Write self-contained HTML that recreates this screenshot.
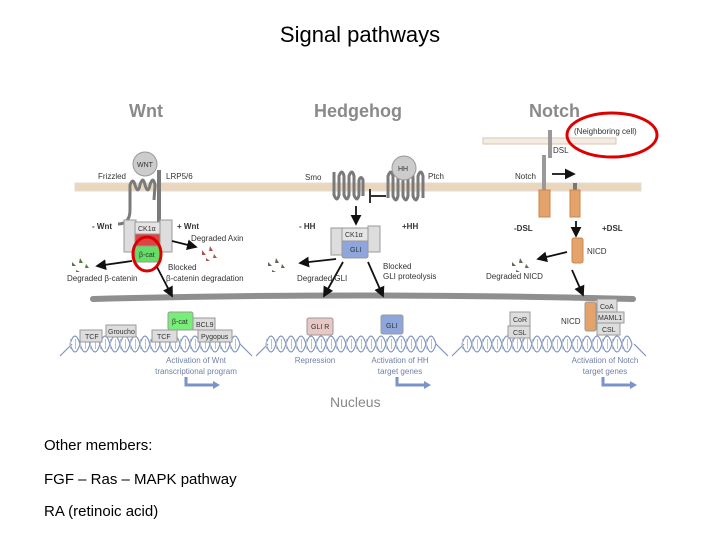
<!DOCTYPE html>
<html><head><meta charset="utf-8"><style>
html,body{margin:0;padding:0;background:#fff}
body{width:720px;height:540px;overflow:hidden;position:relative;font-family:"Liberation Sans",sans-serif}
.t{position:absolute;left:0;width:720px;top:22px;text-align:center;font-size:22px;color:#000}
.b{position:absolute;left:44px;font-size:15px;color:#000}
svg{position:absolute;left:0;top:0}
svg text{font-family:"Liberation Sans",sans-serif}
</style></head><body>
<div class="t">Signal pathways</div>
<div class="b" style="top:437px">Other members:</div>
<div class="b" style="top:471px">FGF – Ras – MAPK pathway</div>
<div class="b" style="top:503px">RA (retinoic acid)</div>
<svg width="720" height="540" viewBox="0 0 720 540">
<defs><marker id="a" markerWidth="6" markerHeight="6" refX="5" refY="3" orient="auto"><path d="M0,0L6,3L0,6z" fill="#111"/></marker></defs>
<g font-weight="bold" fill="#8a8a8a" font-size="18">
<text x="129" y="117">Wnt</text><text x="314" y="117">Hedgehog</text><text x="529" y="117">Notch</text></g>
<rect x="483" y="138" width="133" height="6" fill="#f4ece2" stroke="#d8c7b0"/>
<rect x="75" y="183" width="566" height="8" fill="#ebd6bc" stroke="#ddd"/>
<path d="M93,299 Q360,292 633,299" stroke="#8f8f8f" stroke-width="6" fill="none" stroke-linecap="round"/>
<!-- DNA -->
<g fill="none" stroke="#7f94bd" stroke-width="1.2">
<path d="M60,356 L72,344 M252,356 L240,344 M256,356 L268,344 M448,356 L436,344 M452,356 L464,344 M646,356 L634,344"/>
<path id="s1" d="M70,344 c3.3,-10.6 6.7,-10.6 10,0 s6.7,10.6 10,0 s6.7,-10.6 10,0 s6.7,10.6 10,0 s6.7,-10.6 10,0 s6.7,10.6 10,0 s6.7,-10.6 10,0 s6.7,10.6 10,0 s6.7,-10.6 10,0 s6.7,10.6 10,0 s6.7,-10.6 10,0 s6.7,10.6 10,0 s6.7,-10.6 10,0 s6.7,10.6 10,0 s6.7,-10.6 10,0 s6.7,10.6 10,0 s6.7,-10.6 10,0"/>
<path id="s2" d="M70,344 c3.3,10.6 6.7,10.6 10,0 s6.7,-10.6 10,0 s6.7,10.6 10,0 s6.7,-10.6 10,0 s6.7,10.6 10,0 s6.7,-10.6 10,0 s6.7,10.6 10,0 s6.7,-10.6 10,0 s6.7,10.6 10,0 s6.7,-10.6 10,0 s6.7,10.6 10,0 s6.7,-10.6 10,0 s6.7,10.6 10,0 s6.7,-10.6 10,0 s6.7,10.6 10,0 s6.7,-10.6 10,0 s6.7,10.6 10,0"/>
<line x1="70" y1="344" x2="240" y2="344" stroke-width="10" stroke-dasharray="1 4" stroke="#b3c0da"/>
<use href="#s1" x="196"/><use href="#s2" x="196"/>
<line x1="266" y1="344" x2="436" y2="344" stroke-width="10" stroke-dasharray="1 4" stroke="#b3c0da"/>
<use href="#s1" x="392"/><use href="#s2" x="392"/>
<line x1="462" y1="344" x2="632" y2="344" stroke-width="10" stroke-dasharray="1 4" stroke="#b3c0da"/>
</g>
<path d="M118,224 Q130,224 130,210 L130,185 q3,-8 5,0 q3,10 5,0 q3,-10 5,0 q3,10 5,0 q3,-10 5,0 L154,200" fill="none" stroke="#7a7a7a" stroke-width="3"/>
<rect x="157" y="170" width="4" height="62" fill="#7a7a7a"/>
<circle cx="145" cy="164" r="12" fill="#ccc" stroke="#999"/>
<g font-size="8" fill="#333">
<text x="137" y="167" font-size="7">WNT</text>
<text x="98" y="179">Frizzled</text><text x="166" y="179">LRP5/6</text>
<text x="92" y="229" font-weight="bold">- Wnt</text><text x="177" y="229" font-weight="bold">+ Wnt</text>
<text x="191" y="241">Degraded Axin</text>
<text x="67" y="281">Degraded β-catenin</text>
<text x="168" y="270">Blocked</text><text x="166" y="281">β-catenin degradation</text>
</g>
<rect x="124" y="220" width="12" height="32" fill="#ddd" stroke="#999"/>
<rect x="160" y="220" width="12" height="32" fill="#ddd" stroke="#999"/>
<rect x="135" y="222" width="25" height="12" fill="#e4e4e4" stroke="#999"/>
<rect x="135" y="234" width="25" height="12" fill="#d44" stroke="#999"/>
<rect x="135" y="246" width="25" height="16" rx="2" fill="#6d6" stroke="#999"/>
<g font-size="7" fill="#333"><text x="138" y="231">CK1α</text><text x="139" y="257">β-cat</text></g>
<ellipse cx="147" cy="254" rx="14" ry="17" fill="none" stroke="#d00" stroke-width="3"/>
<g fill="#557744"><path d="M72,262l4,4h-4zM80,258l3,5h-4zM86,264l3,4h-4zM76,270l4,2h-4z"/></g>
<g fill="#a55"><path d="M202,250l4,5h-4zM210,246l3,5h-4zM214,254l3,4h-4zM206,258l4,3h-4z"/></g>
<g stroke="#111" stroke-width="1.8" marker-end="url(#a)" fill="none">
<line x1="132" y1="261" x2="97" y2="266"/><line x1="172" y1="241" x2="196" y2="247"/>
<line x1="157" y1="267" x2="172" y2="296"/>
<line x1="356" y1="206" x2="356" y2="224"/><line x1="336" y1="259" x2="300" y2="263"/>
<line x1="343" y1="262" x2="324" y2="296"/><line x1="368" y1="262" x2="383" y2="296"/>
<line x1="552" y1="174" x2="574" y2="174"/><line x1="576" y1="221" x2="576" y2="236"/>
<line x1="567" y1="252" x2="538" y2="259"/><line x1="572" y1="270" x2="583" y2="295"/>
</g>
<g stroke="#999" font-size="7" fill="#333">
<rect x="80" y="330" width="22" height="12" fill="#ddd"/><rect x="106" y="325" width="30" height="12" fill="#ddd"/>
<rect x="152" y="330" width="25" height="12" fill="#ddd"/><rect x="193" y="318" width="22" height="12" fill="#ddd"/>
<rect x="198" y="330" width="34" height="12" fill="#ddd"/><rect x="168" y="312" width="25" height="18" rx="2" fill="#7e7"/>
<rect x="307" y="318" width="26" height="17" rx="2" fill="#e8c8c4"/><rect x="381" y="315" width="22" height="19" rx="2" fill="#8fa6dc"/>
<rect x="510" y="312" width="20" height="14" fill="#ddd"/><rect x="508" y="326" width="22" height="12" fill="#ddd"/>
<rect x="585" y="302" width="11" height="29" rx="2" fill="#e3a36b"/><rect x="597" y="299" width="20" height="13" fill="#ddd"/>
<rect x="597" y="312" width="27" height="11" fill="#ddd"/><rect x="597" y="323" width="23" height="12" fill="#ddd"/>
</g>
<g font-size="7" fill="#333">
<text x="85" y="339">TCF</text><text x="108" y="334">Groucho</text><text x="157" y="339">TCF</text><text x="196" y="327">BCL9</text>
<text x="201" y="339">Pygopus</text><text x="172" y="324">β-cat</text><text x="311" y="329">GLI R</text><text x="386" y="328">GLI</text>
<text x="513" y="322">CoR</text><text x="513" y="335">CSL</text><text x="600" y="309">CoA</text><text x="598" y="320">MAML1</text><text x="602" y="332">CSL</text>
<text x="561" y="324" font-size="8">NICD</text>
</g>
<g font-size="8" fill="#6f7fa8" text-anchor="middle">
<text x="196" y="363">Activation of Wnt</text><text x="196" y="374">transcriptional program</text>
<text x="315" y="363">Repression</text><text x="400" y="363">Activation of HH</text><text x="400" y="374">target genes</text>
<text x="605" y="363">Activation of Notch</text><text x="605" y="374">target genes</text></g>
<g fill="none" stroke="#7b93c8" stroke-width="3"><path d="M186,377v8h28M397,377v8h28M603,377v8h28"/></g>
<g fill="#7b93c8"><path d="M213,381l7,4l-7,4zM424,381l7,4l-7,4zM630,381l7,4l-7,4z"/></g>
<text x="330" y="407" font-size="14" fill="#888">Nucleus</text>
<path d="M334,172 L334,195 q3,8 5,0 L339,176 q3,-8 5,0 L344,195 q3,8 5,0 L349,176 q3,-8 5,0 L354,195 q3,8 5,0 L359,180 q2,-5 4,0 L363,196" fill="none" stroke="#7a7a7a" stroke-width="3"/>
<path d="M388,198 L388,176 q3,-8 5,0 L393,196 q3,8 5,0 L398,176 q3,-8 5,0 L403,196 q3,8 5,0 L408,176 q3,-8 5,0 L413,196 q3,8 5,0 L418,176 q3,-8 5,0 L423,198" fill="none" stroke="#7a7a7a" stroke-width="3"/>
<circle cx="404" cy="168" r="12" fill="#ccc" stroke="#999"/>
<path d="M370,196H386M370,189V203" stroke="#333" stroke-width="2"/>
<g font-size="8" fill="#333">
<text x="398" y="171" font-size="7">HH</text><text x="305" y="180">Smo</text><text x="428" y="179">Ptch</text>
<text x="299" y="229" font-weight="bold">- HH</text><text x="402" y="229" font-weight="bold">+HH</text>
<text x="297" y="281">Degraded GLI</text><text x="383" y="269">Blocked</text><text x="383" y="279">GLI proteolysis</text>
<text x="515" y="179">Notch</text><text x="553" y="153">DSL</text>
<text x="514" y="231" font-weight="bold">-DSL</text><text x="602" y="231" font-weight="bold">+DSL</text>
<text x="587" y="254">NICD</text><text x="486" y="279">Degraded NICD</text>
<text x="574" y="134" font-size="8">(Neighboring cell)</text>
</g>
<rect x="331" y="228" width="11" height="27" fill="#ddd" stroke="#999"/><rect x="368" y="226" width="12" height="26" fill="#ddd" stroke="#999"/>
<rect x="342" y="228" width="26" height="13" fill="#e4e4e4" stroke="#999"/><rect x="342" y="241" width="26" height="17" rx="2" fill="#8fa6dc" stroke="#999"/>
<g font-size="7" fill="#333"><text x="345" y="237">CK1α</text><text x="350" y="252">GLI</text></g>
<g fill="#665"><path d="M268,262l4,4h-4zM276,258l3,5h-4zM282,264l3,4h-4zM272,270l4,2h-4zM512,262l4,4h-4zM520,258l3,5h-4zM526,264l3,4h-4zM516,270l4,2h-4z"/></g>
<rect x="548" y="130" width="4" height="28" fill="#999"/>
<rect x="542" y="155" width="4" height="36" fill="#999"/>
<rect x="573" y="183" width="4" height="8" fill="#777"/>
<rect x="539" y="190" width="11" height="27" fill="#e3a36b" stroke="#c8874f"/>
<rect x="570" y="190" width="10" height="27" fill="#e3a36b" stroke="#c8874f"/>
<rect x="572" y="238" width="11" height="25" rx="2" fill="#e3a36b" stroke="#c8874f"/>
<ellipse cx="612" cy="135" rx="45" ry="22" fill="none" stroke="#d00" stroke-width="3"/>
</svg>
</body></html>
